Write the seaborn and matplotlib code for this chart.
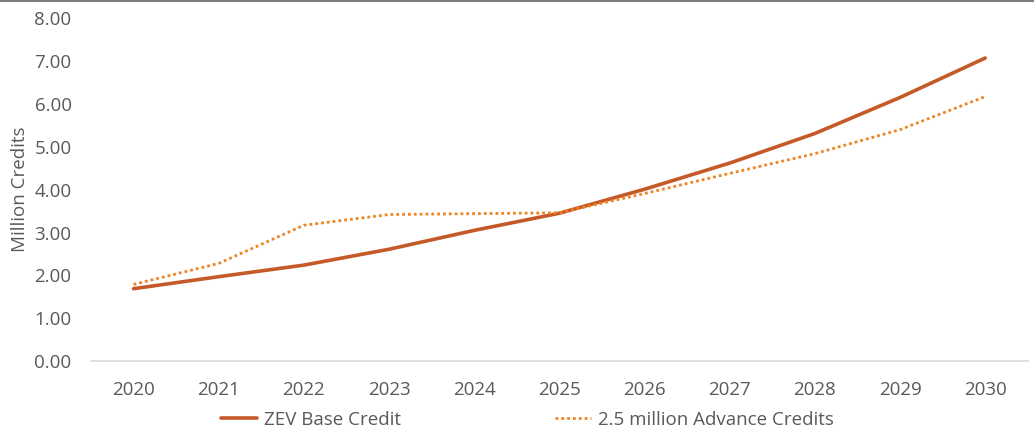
import pandas as pd
import seaborn as sns
import matplotlib.pyplot as plt
from matplotlib.lines import Line2D

# Values (million credits)
years = [2020, 2021, 2022, 2023, 2024, 2025, 2026, 2027, 2028, 2029, 2030]
zev_base = [1.69, 1.97, 2.24, 2.61, 3.05, 3.45, 4.01, 4.62, 5.31, 6.15, 7.07]
advance = [1.79, 2.28, 3.17, 3.42, 3.44, 3.46, 3.91, 4.38, 4.84, 5.40, 6.17]
series_names = ['ZEV Base Credit', '2.5 million Advance Credits']
y_ticks = [0, 1, 2, 3, 4, 5, 6, 7, 8]

df = pd.DataFrame({'Year': years, series_names[0]: zev_base, series_names[1]: advance})

sns.set_style('white')
plt.rcParams['font.family'] = ['Open Sans', 'DejaVu Sans']
text_color = '#595959'
fs = 13.5

fig = plt.figure(figsize=(10.34, 4.32), dpi=100)
ax = fig.add_axes([0.088, 0.164, 0.906, 0.794])

sns.lineplot(x='Year', y=series_names[0], data=df, ax=ax, color='#C55A28',
             linewidth=2.6, label=series_names[0])
sns.lineplot(x='Year', y=series_names[1], data=df, ax=ax, color='#EE8421',
             linewidth=2.0, linestyle=(0, (1, 1.1)), label=series_names[1])

ax.set_xlim(years[0] - 0.5, years[-1] + 0.5)
ax.set_ylim(0, 8)
ax.set_xticks(years)
ax.set_xticklabels([str(y) for y in years])
ax.set_yticks(y_ticks)
ax.set_yticklabels([f'{v:.2f}' for v in y_ticks])
ax.tick_params(axis='both', labelsize=fs, colors=text_color, length=0)
ax.tick_params(axis='x', pad=14)
ax.tick_params(axis='y', pad=14)

ax.set_xlabel('')
ax.set_ylabel('Million Credits', fontsize=fs, color=text_color, labelpad=4)

for side in ['top', 'right', 'left']:
    ax.spines[side].set_visible(False)
ax.spines['bottom'].set_color('#D9D9D9')
ax.spines['bottom'].set_linewidth(1.2)

ax.legend(loc='upper center', bbox_to_anchor=(0.466, -0.095), ncol=2, frameon=False,
          fontsize=fs, handlelength=1.9, handletextpad=0.4, columnspacing=8.2,
          labelcolor=text_color)

# thin grey rule along the top of the image
fig.add_artist(Line2D([0, 1], [0.998, 0.998], color='#808080', linewidth=1.5,
                      transform=fig.transFigure))

fig.savefig('out.png', dpi=100)
